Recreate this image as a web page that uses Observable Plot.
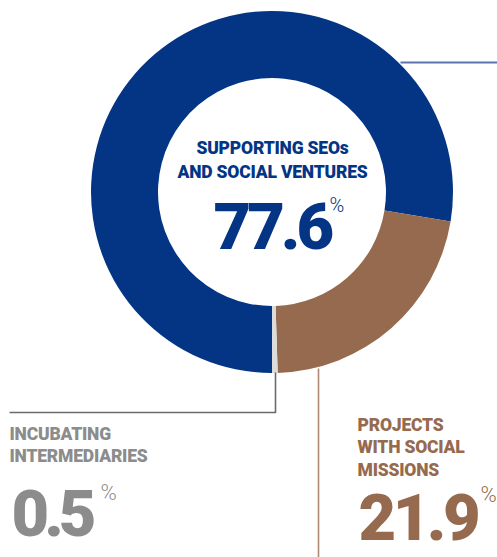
<!DOCTYPE html>
<html><head><meta charset="utf-8">
<script src="https://cdn.jsdelivr.net/npm/d3@7"></script>
<script src="https://cdn.jsdelivr.net/npm/@observablehq/plot@0.6"></script>
<style>html,body{margin:0;padding:0;background:#fff;overflow:hidden}</style>
</head><body><div id="chart"></div>
<script>
// ---- data ----
const categories = ["SUPPORTING SEOs\nAND SOCIAL VENTURES", "PROJECTS\nWITH SOCIAL\nMISSIONS", "INCUBATING\nINTERMEDIARIES"];
const shares = [77.6, 21.9, 0.5];
const sliceColors = ["#033584", "#966a4e", "#dcdcdc"];
const textColors = ["#033584", "#966a4e", "#8c8c8c"];

// ---- layout (pixels) ----
const W = 497, H = 557;
const center = {x: 272, y: 192}, outerR = 181, innerR = 114;
const labelPos = [
  {lx: 272, ly: 137, anchor: "middle", lh: 1.35, nx: 213, ny: 202, px: 329, py: 197, ls: -4},
  {lx: 357, ly: 414, anchor: "start", lh: 1.3, nx: 358, ny: 493, px: 480, py: 486, ls: -3.5},
  {lx: 9, ly: 424, anchor: "start", lh: 1.25, nx: 11, ny: 489, px: 100, py: 484, ls: -5}
];
const leaders = [
  [{x: 400, y: 62}, {x: 497, y: 62}],
  [{x: 318, y: 368}, {x: 318, y: 557}],
  [{x: 275, y: 372}, {x: 275, y: 412}, {x: 9, y: 412}]
];
const leaderColors = ["#5a74b0", "#b08a72", "#6a6a6a"];
const leaderWidths = [2, 1.6, 1.6];

const slices = categories.map((c, i) => ({category: c, share: shares[i], color: sliceColors[i]}));

function donutMark(data) {
  return (index, scales) => {
    const cx = scales.x ? scales.x(center.x) : center.x;
    const cy = scales.y ? scales.y(center.y) : center.y;
    const pie = d3.pie().value(d => d.share).sort(null).startAngle(Math.PI).endAngle(3 * Math.PI);
    const arc = d3.arc().innerRadius(innerR).outerRadius(outerR);
    const g = d3.create("svg:g").attr("transform", `translate(${cx},${cy})`);
    g.selectAll("path").data(pie(data)).join("path").attr("d", arc).attr("fill", d => d.data.color);
    return g.node();
  };
}

const labelData = categories.map((c, i) => ({text: c, value: shares[i].toFixed(1), color: textColors[i], ...labelPos[i]}));

const marks = [donutMark(slices)];
leaders.forEach((pts, i) => marks.push(Plot.line(pts, {x: "x", y: "y", stroke: leaderColors[i], strokeWidth: leaderWidths[i], strokeLinecap: "butt"})));
labelData.forEach((d, i) => {
  marks.push(Plot.text([d], {x: "lx", y: "ly", text: "text", fill: "color", textAnchor: d.anchor, lineAnchor: "top", lineHeight: d.lh, fontSize: 17.5, fontWeight: 900, ariaLabel: () => "cat-label"}));
  marks.push(Plot.text([d], {x: "nx", y: "ny", text: "value", fill: "color", textAnchor: "start", lineAnchor: "top", fontSize: 65, fontWeight: 900, ariaLabel: () => "big-number-" + i}));
  marks.push(Plot.text([d], {x: "px", y: "py", text: () => "%", fill: "color", textAnchor: "start", lineAnchor: "top", fontSize: i === 0 ? 20 : 22, fontWeight: 300}));
});

const chart = Plot.plot({
  width: W, height: H, margin: 0,
  x: {domain: [0, W], range: [0, W], axis: null},
  y: {domain: [0, H], range: [0, H], axis: null},
  style: {fontFamily: "Roboto", background: "#fff", overflow: "visible"},
  marks
});
labelData.forEach((d, i) => {
  d3.select(chart).selectAll(`text[aria-label="big-number-${i}"]`).style("letter-spacing", d.ls + "px");
});
d3.select(chart).selectAll('text[aria-label="cat-label"]').style("letter-spacing", "-0.2px");
document.getElementById("chart").appendChild(chart);
</script>
</body></html>
